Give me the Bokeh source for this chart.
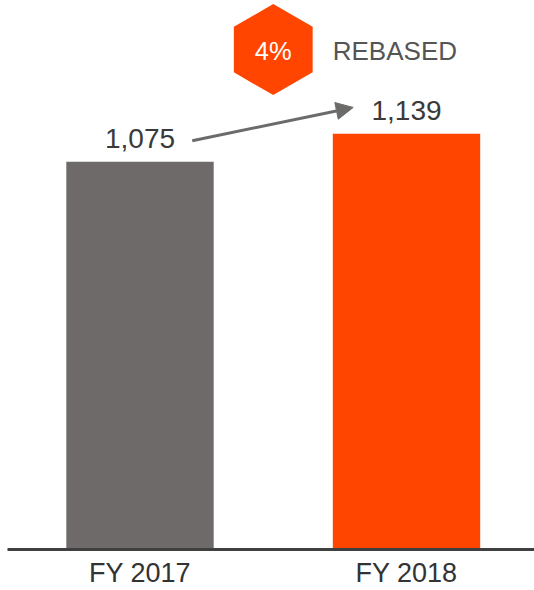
import numpy as np
from bokeh.plotting import figure
from bokeh.models import Range1d, FixedTicker, Arrow, NormalHead, ColumnDataSource
from bokeh.core.properties import value
from bokeh.embed import file_html
from bokeh.resources import INLINE

# ---- data ----
categories = ["FY 2017", "FY 2018"]
revenue = [1075, 1139]
value_labels = ["1,075", "1,139"]
bar_colors = ["#6e6a6a", "#ff4500"]
growth_label = ["4%"]
growth_note = ["REBASED"]

FONT = "Liberation Sans"
xs = list(range(len(categories)))
y_start, y_end = 190.4, 1443.0

p = figure(width=534, height=590,
           x_range=Range1d(-0.4972, 1.4803), y_range=Range1d(y_start, y_end),
           output_backend="svg", toolbar_location=None,
           min_border_left=7, min_border_right=0, min_border_top=0, min_border_bottom=0)
p.outline_line_color = None
p.grid.visible = False
p.yaxis.visible = False
p.background_fill_color = "white"
p.border_fill_color = "white"

ax = p.xaxis[0]
ax.ticker = FixedTicker(ticks=xs)
ax.major_label_overrides = {i: c for i, c in zip(xs, categories)}
ax.major_tick_line_color = None
ax.minor_tick_line_color = None
ax.major_tick_out = 0
ax.major_tick_in = 0
ax.axis_line_color = "#404040"
ax.axis_line_width = 3
ax.major_label_text_font = FONT
ax.major_label_text_font_size = "27px"
ax.major_label_text_color = "#333333"
ax.major_label_standoff = 8

src = ColumnDataSource(dict(x=xs, top=revenue, label=value_labels, color=bar_colors))
p.vbar(x="x", top="top", bottom=y_start, width=0.553, fill_color="color",
       line_color=None, source=src)
p.text(x="x", y="top", text="label", source=src, text_align="center",
       text_baseline="alphabetic", y_offset=-23, text_font=value(FONT),
       text_font_size="28px", text_color="#3a3a3a")

# growth badge between the two years
mid_x = (xs[0] + xs[1]) / 2
badge_y = 1331
p.scatter(x=[mid_x], y=[badge_y], marker="hex", size=91, angle=np.pi / 2,
          fill_color="#ff4500", line_color=None)
p.text(x=[mid_x], y=[badge_y], text=growth_label, text_align="center",
       text_baseline="middle", y_offset=1, text_font=value(FONT),
       text_font_size="25.5px", text_color="white")
p.text(x=[mid_x], y=[badge_y], text=growth_note, text_align="left",
       text_baseline="middle", x_offset=59.5, y_offset=1, text_font=value(FONT),
       text_font_size="26px", text_color="#555555")

p.add_layout(Arrow(x_start=0.196, y_start=1123, x_end=0.800, y_end=1199,
                   line_color="#6d6a6a", line_width=3,
                   end=NormalHead(size=17, fill_color="#6d6a6a", line_color="#6d6a6a")))

open("out.html", "w").write(file_html(p, INLINE))
